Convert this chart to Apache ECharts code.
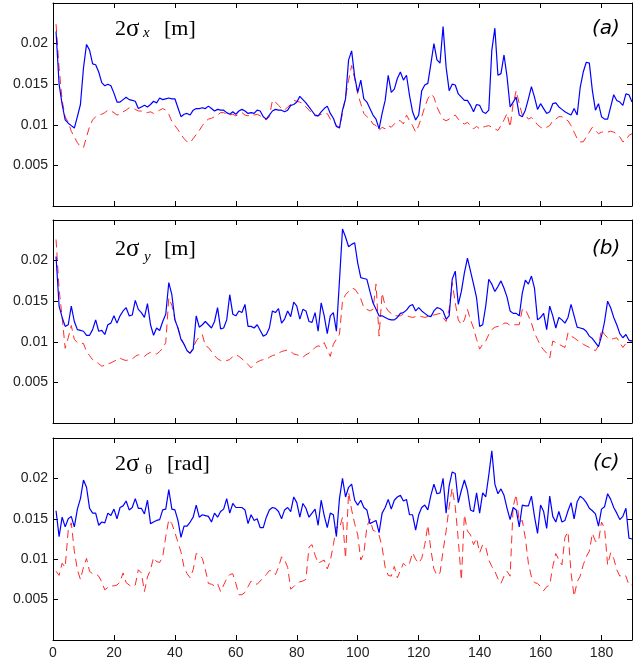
<!DOCTYPE html>
<html>
<head>
<meta charset="utf-8">
<script src="https://cdn.jsdelivr.net/npm/echarts@6/dist/echarts.min.js"></script>
<style>html,body{margin:0;padding:0;background:#fff;}#c{width:643px;height:665px;}</style>
</head>
<body>
<div id="c"></div>
<script>
// x positions are sample indices 1..190
const xTicks = [0, 20, 40, 60, 80, 100, 120, 140, 160, 180];
const yTicks = [0.005, 0.01, 0.015, 0.02];

const sigmaX_blue = [0.0215,0.015,0.0125,0.0106,0.0102,0.0099,0.0096,0.011,0.0125,0.017,0.0199,0.0192,0.0175,0.0174,0.0165,0.0152,0.0148,0.015,0.0148,0.0139,
0.0128,0.0128,0.0131,0.0134,0.0131,0.013,0.0129,0.012,0.0122,0.0124,0.0122,0.0125,0.0129,0.0127,0.0133,0.0131,0.0132,0.0133,0.0132,0.0132,
0.0121,0.011,0.0113,0.0114,0.0112,0.0118,0.012,0.012,0.0121,0.012,0.0123,0.012,0.0117,0.0119,0.0118,0.0118,0.0115,0.0113,0.0116,0.0113,
0.0117,0.0119,0.0117,0.0114,0.0115,0.0114,0.0118,0.0117,0.011,0.0107,0.0112,0.0117,0.0119,0.0118,0.0118,0.0116,0.0118,0.0124,0.0125,0.0128,
0.0135,0.0131,0.0127,0.0122,0.0117,0.0112,0.0111,0.0116,0.012,0.0123,0.0114,0.0108,0.0098,0.0096,0.0118,0.0132,0.018,0.0191,0.0159,0.014,
0.0155,0.0132,0.0128,0.012,0.0112,0.0107,0.0095,0.0114,0.013,0.0161,0.014,0.0144,0.0157,0.0165,0.0155,0.0161,0.0136,0.0116,0.0106,0.0112,
0.0142,0.0149,0.0151,0.0175,0.02,0.018,0.0176,0.0221,0.0171,0.0142,0.015,0.0149,0.0138,0.0134,0.013,0.013,0.0124,0.0116,0.0125,0.0124,
0.0116,0.0114,0.0118,0.0192,0.0219,0.0161,0.0163,0.0186,0.0159,0.0122,0.0128,0.0134,0.0112,0.011,0.0118,0.0132,0.0147,0.0134,0.0119,0.0126,
0.012,0.0114,0.0116,0.0126,0.0127,0.0122,0.0119,0.0116,0.0114,0.0112,0.012,0.0112,0.0146,0.0165,0.0177,0.0176,0.0142,0.0118,0.0126,0.011,
0.0107,0.0107,0.0122,0.0137,0.013,0.0128,0.0124,0.0138,0.0137,0.0128];

const sigmaX_red = [0.0224,0.017,0.013,0.011,0.0103,0.0092,0.0085,0.0078,0.0073,0.0072,0.0085,0.0098,0.0106,0.011,0.0112,0.0113,0.0115,0.0118,0.0117,0.0115,
0.0112,0.0113,0.0116,0.0118,0.0121,0.012,0.0119,0.0117,0.0117,0.0115,0.0115,0.0116,0.0114,0.0116,0.0118,0.012,0.0118,0.0113,0.0104,0.0099,
0.0094,0.0088,0.0083,0.0079,0.0078,0.0083,0.0088,0.0093,0.0099,0.0104,0.0107,0.0108,0.011,0.0112,0.0115,0.0115,0.0113,0.0112,0.0113,0.0111,
0.0113,0.0115,0.0112,0.0111,0.0113,0.0112,0.0113,0.0111,0.0108,0.0106,0.011,0.013,0.0128,0.0124,0.012,0.0118,0.0122,0.0125,0.013,0.0129,
0.0128,0.0126,0.0122,0.0118,0.0114,0.0111,0.0111,0.0113,0.0112,0.0114,0.0107,0.0105,0.0099,0.0097,0.0114,0.0134,0.0155,0.0173,0.0157,0.0138,
0.0126,0.0114,0.011,0.0107,0.0101,0.0099,0.0093,0.0097,0.0095,0.0099,0.0097,0.0101,0.0105,0.0105,0.0101,0.0112,0.0105,0.0099,0.0091,0.0099,
0.011,0.0122,0.0132,0.0138,0.0134,0.0122,0.0114,0.0107,0.0105,0.0107,0.011,0.0112,0.0107,0.0103,0.0101,0.0103,0.0099,0.0095,0.0098,0.0095,
0.0097,0.0098,0.0099,0.0097,0.0095,0.0093,0.0099,0.0106,0.0114,0.0097,0.0126,0.0142,0.0126,0.0112,0.0112,0.0107,0.0109,0.0105,0.01,0.0097,
0.0095,0.0097,0.0099,0.0105,0.0107,0.011,0.011,0.0107,0.0105,0.0099,0.0091,0.0083,0.0079,0.0079,0.0085,0.0091,0.0097,0.0093,0.0089,0.0091,
0.0091,0.0091,0.0092,0.0091,0.0089,0.0085,0.0079,0.0081,0.0087,0.0089];

const sigmaY_blue = [0.0205,0.0144,0.013,0.0119,0.0121,0.0144,0.0125,0.0115,0.0114,0.0113,0.0108,0.0108,0.0115,0.0127,0.0113,0.0114,0.0109,0.0121,0.0123,0.0132,
0.0123,0.0132,0.0138,0.0142,0.0132,0.0133,0.0151,0.014,0.0136,0.013,0.0147,0.0121,0.0108,0.0117,0.0114,0.0125,0.0134,0.0173,0.0158,0.0127,
0.0117,0.0103,0.0097,0.0089,0.0086,0.0091,0.0132,0.0118,0.0121,0.0125,0.0121,0.0117,0.0125,0.0142,0.0116,0.0117,0.0127,0.0158,0.0134,0.0132,
0.0138,0.0136,0.0146,0.0119,0.0119,0.0117,0.0121,0.0114,0.0107,0.0109,0.0117,0.0138,0.0136,0.0141,0.0123,0.0128,0.0138,0.0131,0.0149,0.0144,
0.0128,0.014,0.0138,0.0125,0.0124,0.0136,0.0113,0.0148,0.0132,0.011,0.0132,0.0136,0.0113,0.0175,0.0239,0.0229,0.0217,0.022,0.0222,0.0197,
0.0179,0.0178,0.0177,0.0162,0.0148,0.014,0.0132,0.0132,0.013,0.0128,0.0127,0.0127,0.013,0.0135,0.0136,0.0139,0.0144,0.0146,0.0138,0.0142,
0.0138,0.0135,0.0132,0.0131,0.0138,0.0142,0.0141,0.0138,0.0128,0.0132,0.0177,0.0187,0.0146,0.0162,0.0185,0.0203,0.0187,0.0171,0.0154,0.0119,
0.0121,0.0144,0.0177,0.0171,0.0162,0.0168,0.0175,0.0166,0.0155,0.0138,0.0135,0.0135,0.0132,0.016,0.0176,0.0171,0.0181,0.0166,0.0127,0.013,
0.0135,0.0115,0.0144,0.0132,0.0117,0.013,0.0127,0.0123,0.013,0.0146,0.0132,0.0118,0.0117,0.0116,0.0113,0.0107,0.0104,0.0099,0.0094,0.0107,
0.0125,0.015,0.0142,0.013,0.0121,0.011,0.0105,0.0109,0.0102,0.0101];

const sigmaY_red = [0.0226,0.0165,0.013,0.0092,0.0105,0.012,0.0103,0.0099,0.0098,0.0098,0.0088,0.0083,0.0078,0.0076,0.0073,0.007,0.0071,0.0073,0.0074,0.0076,
0.0078,0.008,0.0078,0.0077,0.0078,0.0079,0.0082,0.0084,0.0083,0.0082,0.0085,0.0087,0.0086,0.0085,0.0088,0.0092,0.0099,0.0154,0.0145,0.0128,
0.0117,0.0105,0.0097,0.0089,0.0086,0.0093,0.0101,0.0106,0.0109,0.0095,0.0093,0.0088,0.0083,0.0079,0.0077,0.0076,0.0077,0.0078,0.0082,0.0084,
0.0082,0.0079,0.0076,0.0072,0.0068,0.0072,0.0075,0.0077,0.0078,0.0078,0.0081,0.0083,0.0084,0.0086,0.0088,0.0089,0.009,0.0088,0.0085,0.0084,
0.0083,0.0081,0.0084,0.0086,0.0089,0.0093,0.0095,0.0094,0.0099,0.009,0.0082,0.0097,0.0103,0.0109,0.015,0.0158,0.0162,0.0166,0.0165,0.016,
0.0153,0.0142,0.014,0.0138,0.014,0.0171,0.0107,0.016,0.0144,0.0138,0.0135,0.0132,0.0132,0.0132,0.0134,0.0132,0.0131,0.013,0.0131,0.0132,
0.0131,0.013,0.0131,0.0132,0.0133,0.0134,0.0135,0.013,0.0125,0.014,0.0173,0.0148,0.0127,0.0121,0.0127,0.014,0.0127,0.0117,0.0103,0.0091,
0.0097,0.0101,0.0109,0.0115,0.0118,0.0119,0.0119,0.0123,0.0123,0.012,0.0121,0.0121,0.0121,0.014,0.014,0.0132,0.0123,0.0111,0.0103,0.0095,
0.009,0.0086,0.008,0.0101,0.0099,0.0097,0.0095,0.0093,0.0111,0.0107,0.0105,0.0102,0.01,0.0097,0.0095,0.0093,0.0091,0.0089,0.0095,0.0115,
0.0109,0.0105,0.0103,0.0104,0.0105,0.0099,0.0093,0.0098,0.0101,0.0101];

const sigmaT_blue = [0.016,0.0128,0.0152,0.014,0.015,0.0153,0.014,0.0162,0.0175,0.0198,0.0189,0.0163,0.0157,0.0157,0.0142,0.0146,0.0145,0.0157,0.0154,0.0162,
0.015,0.0164,0.0166,0.0172,0.0161,0.0164,0.0175,0.0163,0.0163,0.0156,0.0173,0.0144,0.0146,0.0148,0.0149,0.0161,0.0162,0.0186,0.0162,0.0161,
0.0148,0.0127,0.0141,0.0141,0.0146,0.0152,0.0167,0.0152,0.0155,0.0154,0.0153,0.0146,0.0157,0.0152,0.0159,0.0162,0.0175,0.0157,0.0169,0.0164,
0.0164,0.0164,0.0161,0.0144,0.0155,0.0148,0.015,0.0139,0.0139,0.0152,0.0161,0.0164,0.0163,0.0159,0.015,0.0161,0.0164,0.0159,0.0177,0.017,
0.0152,0.0169,0.0163,0.0152,0.0157,0.0162,0.0142,0.0173,0.0154,0.0139,0.0157,0.0155,0.0128,0.0175,0.02,0.0177,0.0189,0.0193,0.0173,0.0167,
0.0173,0.0164,0.0161,0.0144,0.0146,0.0148,0.0133,0.0157,0.0164,0.0174,0.0162,0.0173,0.0177,0.0179,0.0172,0.0174,0.0155,0.0155,0.0136,0.0155,
0.0164,0.0167,0.0161,0.0179,0.0193,0.0181,0.0182,0.02,0.0157,0.0191,0.0208,0.0206,0.017,0.0185,0.0198,0.0185,0.0161,0.0159,0.0182,0.0157,
0.0182,0.0177,0.0204,0.0234,0.0193,0.0181,0.0187,0.0179,0.0163,0.0149,0.0164,0.0161,0.014,0.0167,0.0166,0.0166,0.0178,0.0153,0.0132,0.0167,
0.0159,0.0138,0.0178,0.0153,0.0146,0.0159,0.0146,0.0148,0.016,0.017,0.015,0.0171,0.0178,0.0175,0.017,0.0163,0.016,0.0156,0.0141,0.0162,
0.0165,0.0181,0.0174,0.0164,0.0157,0.0149,0.0153,0.0163,0.0126,0.0125];

const sigmaT_red = [0.0085,0.008,0.0095,0.009,0.0136,0.0145,0.011,0.0087,0.0075,0.009,0.0101,0.0085,0.0082,0.0082,0.0079,0.0072,0.0062,0.0065,0.0067,0.0067,
0.0068,0.0072,0.0083,0.0071,0.0068,0.0066,0.0068,0.0087,0.0083,0.006,0.0078,0.0087,0.0102,0.0097,0.0096,0.0103,0.0128,0.0149,0.0144,0.0133,
0.0121,0.0109,0.009,0.0082,0.0077,0.0087,0.0107,0.0106,0.0101,0.0087,0.007,0.0069,0.0067,0.007,0.006,0.0068,0.0076,0.0081,0.0082,0.007,
0.0056,0.0056,0.0059,0.0066,0.0073,0.007,0.0069,0.0073,0.0077,0.0081,0.0086,0.0085,0.0081,0.009,0.0103,0.0099,0.009,0.0063,0.0066,0.007,
0.0072,0.0073,0.0075,0.0115,0.0118,0.0105,0.0095,0.0097,0.0099,0.0088,0.0098,0.0118,0.014,0.0138,0.0152,0.0101,0.0183,0.0161,0.0144,0.013,
0.0099,0.0107,0.014,0.015,0.0136,0.0134,0.013,0.0115,0.009,0.008,0.0079,0.0091,0.0077,0.0086,0.0095,0.0091,0.0095,0.0108,0.01,0.0095,
0.0101,0.0118,0.0142,0.0112,0.0088,0.008,0.0083,0.011,0.0135,0.0165,0.0188,0.0165,0.0124,0.0074,0.0155,0.0135,0.013,0.0118,0.0126,0.0108,
0.0118,0.0115,0.0099,0.0091,0.0085,0.0076,0.007,0.0079,0.0085,0.0079,0.0165,0.018,0.0146,0.0148,0.0126,0.0095,0.0078,0.0071,0.007,0.0066,
0.0061,0.0066,0.0068,0.0091,0.0107,0.0099,0.0093,0.0127,0.0134,0.0083,0.0054,0.0072,0.0079,0.0093,0.0103,0.011,0.0132,0.0122,0.0122,0.0146,
0.0138,0.0093,0.0108,0.0101,0.0087,0.0079,0.0081,0.0079,0.0068,0.0068];

const panels = [
  {blue: sigmaX_blue, red: sigmaX_red, top: 3, height: 203},
  {blue: sigmaY_blue, red: sigmaY_red, top: 220, height: 203},
  {blue: sigmaT_blue, red: sigmaT_red, top: 438, height: 202}
];

const toPairs = arr => arr.map((v, i) => [i + 1, v]);
const labelFont = {fontFamily: '"Liberation Sans", Arial, sans-serif', fontSize: 14, color: '#222'};

const grids = [], xAxes = [], yAxes = [], series = [];
panels.forEach((p, g) => {
  grids.push({left: 53, right: 11, top: p.top, height: p.height, containLabel: false});
  const common = {
    type: 'value', gridIndex: g, min: 0, max: 190, interval: 20,
    axisLine: {show: true, onZero: false, lineStyle: {color: '#000', width: 1}},
    axisTick: {show: true, inside: true, length: 5, lineStyle: {color: '#000'}},
    splitLine: {show: false}
  };
  xAxes.push(Object.assign({}, common, {
    position: 'bottom',
    axisLabel: Object.assign({show: g === 2, margin: 6, showMaxLabel: false,
      formatter: v => xTicks.indexOf(v) >= 0 ? String(v) : ''}, labelFont)
  }));
  xAxes.push(Object.assign({}, common, {position: 'top', axisLabel: {show: false}}));
  const ycommon = {
    type: 'value', gridIndex: g, min: 0, max: 0.025, interval: 0.005,
    axisLine: {show: true, onZero: false, lineStyle: {color: '#000', width: 1}},
    axisTick: {show: true, inside: true, length: 5, lineStyle: {color: '#000'}},
    splitLine: {show: false}
  };
  yAxes.push(Object.assign({}, ycommon, {
    position: 'left',
    axisLabel: Object.assign({margin: 5, formatter: v => {
      const r = +(+v).toFixed(3);
      return yTicks.indexOf(r) >= 0 ? String(r) : '';
    }}, labelFont)
  }));
  yAxes.push(Object.assign({}, ycommon, {position: 'right', axisLabel: {show: false}}));
  series.push({
    type: 'line', xAxisIndex: 2 * g, yAxisIndex: 2 * g, data: toPairs(p.red),
    showSymbol: false, symbol: 'none', clip: true,
    lineStyle: {color: '#ff2a2a', width: 1, type: [8, 5]}, z: 2
  });
  series.push({
    type: 'line', xAxisIndex: 2 * g, yAxisIndex: 2 * g, data: toPairs(p.blue),
    showSymbol: false, symbol: 'none', clip: true,
    lineStyle: {color: '#0000ff', width: 1.2}, z: 3
  });
});

const serif = '"Liberation Serif", "Times New Roman", serif';
const sans = '"DejaVu Sans", Verdana, sans-serif';
function txt(text, x, y, size, italic, fam) {
  return {type: 'text', x: x, y: y, z: 10, silent: true,
    style: {text: text, fill: '#000', font: (italic ? 'italic ' : '') + size + 'px ' + (fam || serif),
      align: 'left', verticalAlign: 'middle', textAlign: 'left', textVerticalAlign: 'middle'}};
}
const graphics = [
  txt('2', 115, 29, 22, false), txt('σ', 126, 29, 25, false), txt('x', 143, 33, 15, true), txt('[m]', 164, 29, 22, false),
  txt('(a)', 592, 29, 20, true, sans),
  txt('2', 115, 249, 22, false), txt('σ', 126, 249, 25, false), txt('y', 144, 257, 15, true), txt('[m]', 164, 249, 22, false),
  txt('(b)', 592, 249, 20, true, sans),
  txt('2', 115, 464, 22, false), txt('σ', 126, 464, 25, false), txt('θ', 145, 470, 15, false), txt('[rad]', 167, 464, 22, false),
  txt('(c)', 593, 463, 20, true, sans)
];

const chart = echarts.init(document.getElementById('c'), null, {renderer: 'canvas'});
chart.setOption({
  animation: false,
  backgroundColor: '#fff',
  grid: grids, xAxis: xAxes, yAxis: yAxes, series: series,
  graphic: graphics
});
</script>
</body>
</html>
